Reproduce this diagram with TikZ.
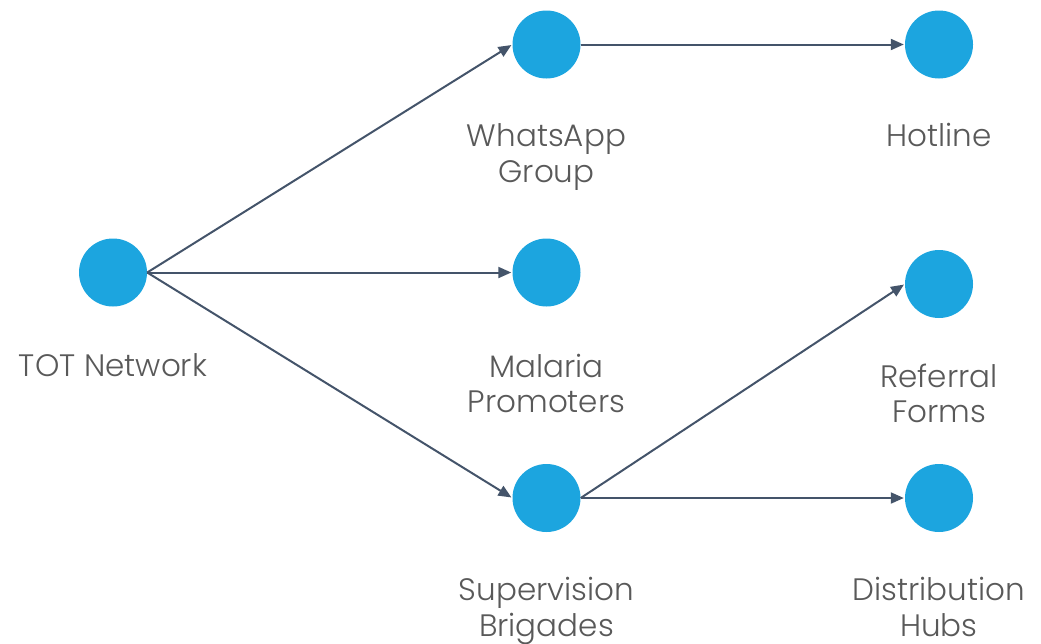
\documentclass[tikz,border=0pt]{standalone}
\usepackage{fontspec}
\setmainfont{Poppins Light}
\usetikzlibrary{arrows.meta}
\definecolor{dotblue}{HTML}{1CA5DF}
\definecolor{linecol}{HTML}{44546A}
\definecolor{textcol}{HTML}{595959}
\tikzset{
  dot/.style={circle, fill=dotblue, draw=none, minimum size=68pt, inner sep=0pt},
  lbl/.style={anchor=base, align=center, text=textcol, inner sep=0pt,
    font=\fontsize{31}{35.5}\selectfont},
  link/.style={draw=linecol, line width=2pt, -{Triangle[length=13pt,width=11pt]}, shorten >=1pt}
}
\begin{document}
\begin{tikzpicture}[x=1pt,y=-1pt]
\useasboundingbox (0,0) rectangle (1041,643);
\node[dot] (tot) at (113,272.5) {};
\node[dot] (wa) at (546.5,44.5) {};
\node[dot] (hot) at (939,44.5) {};
\node[dot] (mal) at (546.5,272.5) {};
\node[dot] (ref) at (939,284) {};
\node[dot] (sup) at (546.5,498) {};
\node[dot] (dis) at (939,498) {};
\node[lbl] (ltot) at (113,376) {TOT Network};
\node[lbl] (lwa) at (546.5,182) {WhatsApp\\Group};
\node[lbl] (lhot) at (939,146) {Hotline};
\node[lbl] (lmal) at (546.5,412.5) {Malaria\\Promoters};
\node[lbl] (lref) at (939,422.5) {Referral\\Forms};
\node[lbl] (lsup) at (546.5,636) {Supervision\\Brigades};
\node[lbl] (ldis) at (939,636) {Distribution\\Hubs};
\draw[link] (tot.east) -- (wa.west);
\draw[link] (tot.east) -- (mal.west);
\draw[link] (tot.east) -- (sup.west);
\draw[link] (wa.east) -- (hot.west);
\draw[link] (sup.east) -- (ref.west);
\draw[link] (sup.east) -- (dis.west);
\end{tikzpicture}
\end{document}
